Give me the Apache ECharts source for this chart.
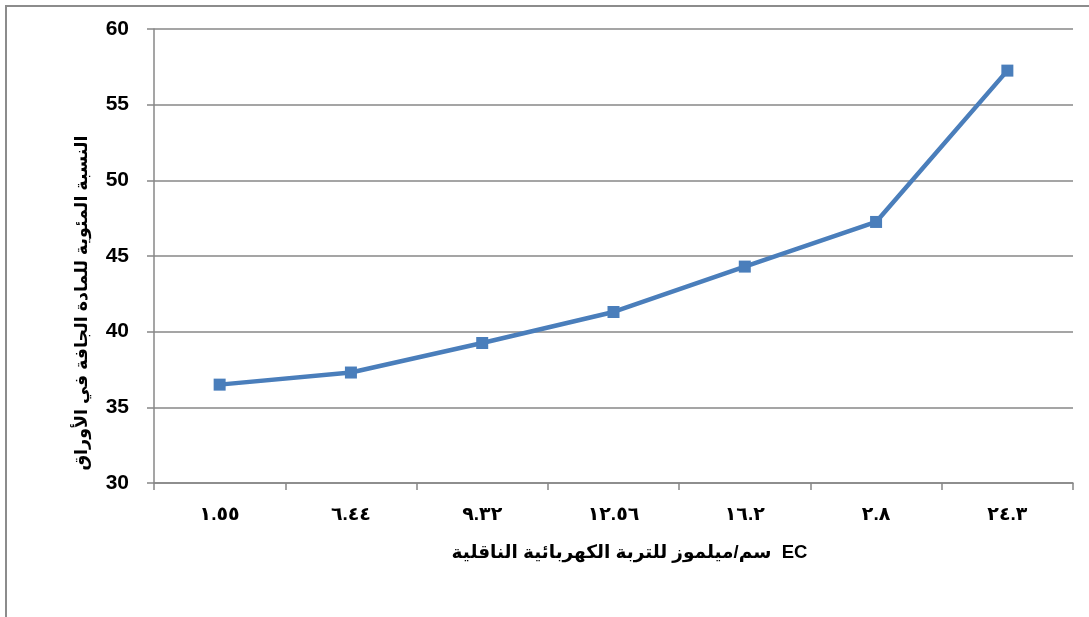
<!DOCTYPE html>
<html>
<head>
<meta charset="utf-8">
<script src="https://cdn.jsdelivr.net/npm/echarts@6/dist/echarts.min.js"></script>
<style>
  html, body { margin: 0; padding: 0; background: #fff; }
  #chart { width: 1089px; height: 617px; }
</style>
</head>
<body>
<div id="chart"></div>
<script>
// Soil electrical conductivity (mmhos/cm) categories, Arabic-Indic numerals
const categories = ['١.٥٥', '٦.٤٤', '٩.٣٢', '١٢.٥٦', '١٦.٢', '٢.٨', '٢٤.٣'];
// Dry matter percentage in leaves
const dryMatter = [36.5, 37.3, 39.25, 41.3, 44.3, 47.25, 57.25];
const yTicks = { min: 30, max: 60, interval: 5 };

// Axis titles; the x title's Arabic run is stored so it lays out word by word left to right
const xTitle = 'سم/ميلموز للتربة الكهربائية الناقلية  EC';
const yTitle = 'النسبة المئوية للمادة الجافة في الأوراق';

const FONT = '"Liberation Sans", "DejaVu Sans", Arial, sans-serif';
const GRID_COLOR = '#878787';

const chart = echarts.init(document.getElementById('chart'), null, { renderer: 'canvas' });
chart.setOption({
  animation: false,
  backgroundColor: '#fff',
  grid: { left: 154, right: 16, top: 29, bottom: 134, containLabel: false },
  xAxis: {
    type: 'category',
    data: categories,
    boundaryGap: true,
    axisLine: { lineStyle: { color: GRID_COLOR, width: 1.5 } },
    axisTick: { show: true, length: 7, inside: false, lineStyle: { color: GRID_COLOR, width: 1.5 } },
    axisLabel: { margin: 22, color: '#000', fontWeight: 'bold', fontSize: 19, fontFamily: FONT },
    name: xTitle,
    nameLocation: 'middle',
    nameGap: 60,
    nameTextStyle: { color: '#000', fontWeight: 'bold', fontSize: 18.5, fontFamily: FONT, padding: [0, 0, 0, 32] }
  },
  yAxis: {
    type: 'value',
    min: yTicks.min,
    max: yTicks.max,
    interval: yTicks.interval,
    axisLine: { show: true, lineStyle: { color: GRID_COLOR, width: 1.5 } },
    axisTick: { show: true, length: 7, lineStyle: { color: GRID_COLOR, width: 1.5 } },
    splitLine: { show: true, lineStyle: { color: GRID_COLOR, width: 1.5 } },
    axisLabel: { margin: 25, color: '#000', fontWeight: 'bold', fontSize: 21, fontFamily: FONT }
  },
  graphic: [
    {
      type: 'rect',
      shape: { x: 6, y: 6, width: 1200, height: 700 },
      style: { fill: 'none', stroke: '#8c8c8c', lineWidth: 2 },
      silent: true
    },
    {
      type: 'text',
      x: 82,
      y: 303,
      rotation: Math.PI / 2,
      style: {
        text: yTitle,
        fill: '#000',
        font: 'bold 17.5px ' + FONT,
        align: 'center',
        verticalAlign: 'middle'
      }
    }
  ],
  series: [{
    type: 'line',
    data: dryMatter,
    symbol: 'rect',
    symbolSize: 12,
    lineStyle: { color: '#4a7ebb', width: 4.5 },
    itemStyle: { color: '#4a7ebb' }
  }]
});
</script>
</body>
</html>
